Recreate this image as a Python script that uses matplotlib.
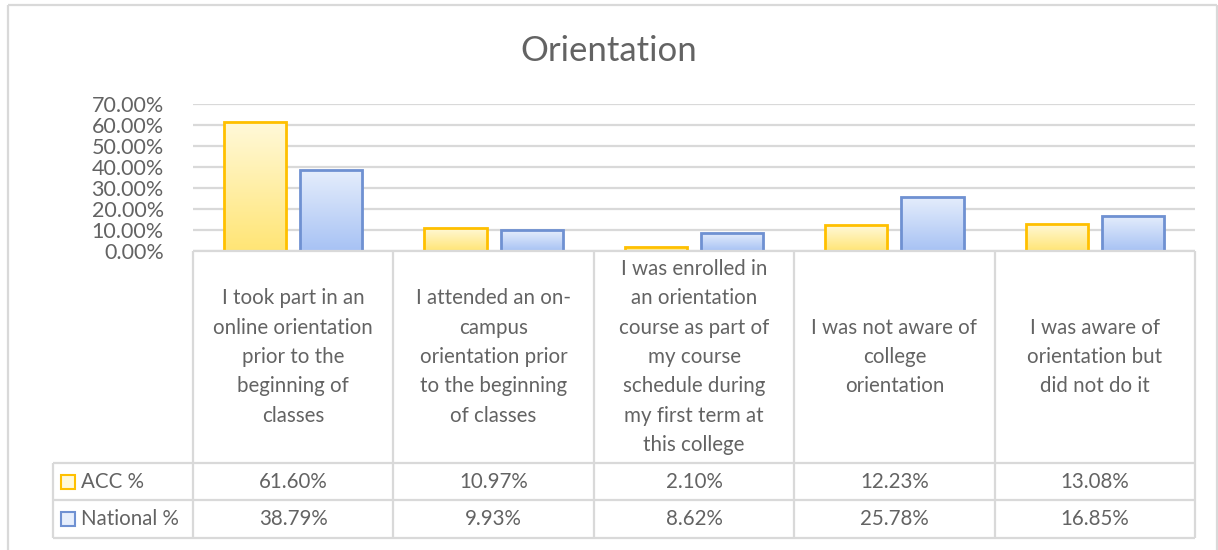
import numpy as np
import matplotlib
matplotlib.use("Agg")
import matplotlib.pyplot as plt
from matplotlib.colors import LinearSegmentedColormap
from matplotlib.patches import Rectangle

# ---- data ----
categories = [
    "I took part in an\nonline orientation\nprior to the\nbeginning of\nclasses",
    "I attended an on-\ncampus\norientation prior\nto the beginning\nof classes",
    "I was enrolled in\nan orientation\ncourse as part of\nmy course\nschedule during\nmy first term at\nthis college",
    "I was not aware of\ncollege\norientation",
    "I was aware of\norientation but\ndid not do it",
]
series_names = ["ACC %", "National %"]
acc_pct = [61.60, 10.97, 2.10, 12.23, 13.08]
national_pct = [38.79, 9.93, 8.62, 25.78, 16.85]
y_ticks = [0, 10, 20, 30, 40, 50, 60, 70]

# ---- styling ----
W, H = 1218, 550
FONT = "Lato"
TXT = "#636363"
GRID = "#D9D9D9"
acc_edge, nat_edge = "#FFC000", "#6F91D2"
acc_grad = ["#FFF9DA", "#FFE575"]
nat_grad = ["#E6EEFC", "#A7C2F4"]
FS = 14.8

fig = plt.figure(figsize=(W / 100, H / 100), dpi=100)
fig.patch.set_facecolor("white")

# plot-area geometry in pixels
left, right, top, bottom = 193, 1195, 104, 251
ax = fig.add_axes([left / W, 1 - bottom / H, (right - left) / W, (bottom - top) / H])
ax.set_xlim(-0.5, len(categories) - 0.5)
ax.set_ylim(0, 70)
ax.set_yticks(y_ticks)
ax.set_yticklabels([f"{v:.2f}%" for v in y_ticks], fontsize=15.5, color=TXT, family=FONT)
ax.tick_params(axis="y", length=0, pad=21)
ax.set_xticks([])
for s in ax.spines.values():
    s.set_visible(False)
ax.grid(axis="y", color=GRID, lw=1.6)
ax.set_axisbelow(True)

x = np.arange(len(categories))
bw, off = 0.31, 0.19


def gradient_bars(xs, vals, grad, edge):
    cmap = LinearSegmentedColormap.from_list("g", grad[::-1])
    grad_img = np.linspace(0, 1, 256).reshape(-1, 1)
    bars = ax.bar(xs, vals, bw, facecolor="none", edgecolor=edge, lw=2.0, zorder=4)
    for b in bars:
        bx, by = b.get_x(), b.get_y()
        w, h = b.get_width(), b.get_height()
        # soft shadow
        ax.add_patch(Rectangle((bx + 0.008, by), w, h + 0.35, facecolor="#000000",
                               alpha=0.06, lw=0, zorder=2))
        im = ax.imshow(grad_img, cmap=cmap, aspect="auto", origin="lower",
                       extent=(bx, bx + w, by, by + h), zorder=3)
        im.set_clip_path(b)
    return bars


gradient_bars(x - off, acc_pct, acc_grad, acc_edge)
gradient_bars(x + off, national_pct, nat_grad, nat_edge)
ax.set_xlim(-0.5, len(categories) - 0.5)
ax.set_ylim(0, 70)

# overlay in pixel coordinates for title, border and data table
ov = fig.add_axes([0, 0, 1, 1], zorder=-1)
ov.set_xlim(0, W)
ov.set_ylim(H, 0)
ov.axis("off")

lk = dict(color=GRID, lw=1.6, solid_capstyle="butt")
# chart border
ov.plot([8, 1217], [5, 5], **lk)
ov.plot([8, 8], [5, H], **lk)
ov.plot([1217, 1217], [5, H], **lk)

fig.text(0.5, 1 - 51 / H, "Orientation", ha="center", va="center",
         fontsize=25, color=TXT, family=FONT)

col_w = (right - left) / len(categories)
row1, row2, row3 = 463, 500, 538
leg_left = 53

ov2 = fig.add_axes([0, 0, 1, 1], zorder=5)
ov2.set_xlim(0, W)
ov2.set_ylim(H, 0)
ov2.axis("off")

# table grid
ov2.plot([left, right], [bottom, bottom], **lk)
for r in (row1, row2, row3):
    ov2.plot([leg_left, right], [r, r], **lk)
for i in range(len(categories) + 1):
    xp = left + i * col_w
    ov2.plot([xp, xp], [bottom, row3], **lk)
ov2.plot([leg_left, leg_left], [row1, row3], **lk)

# category labels and values
for i, cat in enumerate(categories):
    cx = left + (i + 0.5) * col_w
    ov2.text(cx, (bottom + row1) / 2, cat, ha="center", va="center",
             fontsize=FS, color=TXT, family=FONT, linespacing=1.58)
    ov2.text(cx, (row1 + row2) / 2, f"{acc_pct[i]:.2f}%", ha="center", va="center",
             fontsize=FS, color=TXT, family=FONT)
    ov2.text(cx, (row2 + row3) / 2, f"{national_pct[i]:.2f}%", ha="center", va="center",
             fontsize=FS, color=TXT, family=FONT)

# legend keys
for (name, grad, edge, r0, r1) in [
    (series_names[0], acc_grad, acc_edge, row1, row2),
    (series_names[1], nat_grad, nat_edge, row2, row3),
]:
    cy = (r0 + r1) / 2
    ov2.add_patch(Rectangle((61, cy - 7), 14, 14, facecolor=grad[0], edgecolor=edge, lw=1.5))
    ov2.text(81, cy, name, ha="left", va="center", fontsize=FS, color=TXT, family=FONT)

fig.savefig("out.png", dpi=100, facecolor="white")
